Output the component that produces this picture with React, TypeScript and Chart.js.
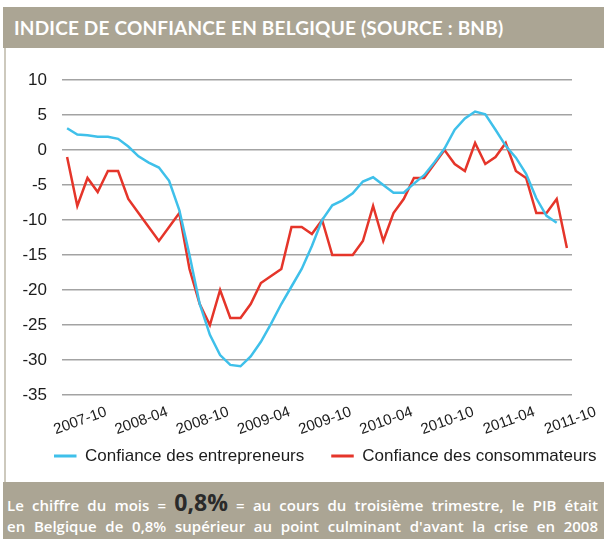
import React, { useEffect, useRef } from 'react';
import { Chart, registerables } from 'chart.js';

Chart.register(...registerables);

const categories: string[] = [
  '2007-09', '2007-10', '2007-11', '2007-12',
  '2008-01', '2008-02', '2008-03', '2008-04', '2008-05', '2008-06', '2008-07', '2008-08', '2008-09', '2008-10', '2008-11', '2008-12',
  '2009-01', '2009-02', '2009-03', '2009-04', '2009-05', '2009-06', '2009-07', '2009-08', '2009-09', '2009-10', '2009-11', '2009-12',
  '2010-01', '2010-02', '2010-03', '2010-04', '2010-05', '2010-06', '2010-07', '2010-08', '2010-09', '2010-10', '2010-11', '2010-12',
  '2011-01', '2011-02', '2011-03', '2011-04', '2011-05', '2011-06', '2011-07', '2011-08', '2011-09', '2011-10',
];

const tickLabels: string[] = ['2007-10', '2008-04', '2008-10', '2009-04', '2009-10', '2010-04', '2010-10', '2011-04', '2011-10'];

const entrepreneurs: (number | null)[] = [
  3.1, 2.2, 2.1, 1.9, 1.9, 1.6, 0.5, -0.9, -1.8, -2.5,
  -4.4, -8.6, -15, -22, -26.4, -29.3, -30.7, -30.9, -29.5, -27.4,
  -24.8, -22.0, -19.5, -17.0, -13.7, -10.0, -7.9, -7.2, -6.2, -4.5,
  -3.9, -5.0, -6.1, -6.1, -4.8, -3.6, -1.8, 0.2, 2.9, 4.5,
  5.5, 5.1, 2.9, 0.6, -1.1, -3.4, -6.9, -9.4, -10.4, null,
];

const consommateurs: number[] = [
  -1, -8, -4, -6, -3, -3, -7, -9, -11, -13,
  -11, -9, -17, -22, -25, -20, -24, -24, -22, -19,
  -18, -17, -11, -11, -12, -10, -15, -15, -15, -13,
  -8, -13, -9, -7, -4, -4, -2, 0, -2, -3,
  1, -2, -1, 1, -3, -4, -9, -9, -7, -14,
];

const seriesNames = ['Confiance des entrepreneurs', 'Confiance des consommateurs'];
const yTickValues: number[] = [10, 5, 0, -5, -10, -15, -20, -25, -30, -35];
const yMin = -35;
const yMax = 10;
const yStep = 5;

const FONT = "'Liberation Sans', Arial, sans-serif";
const BLUE = '#3fc0ea';
const RED = '#e5352a';
const TAN = '#aba594';
const TEXT = '#1c1c1c';

const CW = 640;
const CH = 432;

export default function App() {
  const ref = useRef<HTMLCanvasElement>(null);

  useEffect(() => {
    const canvas = ref.current;
    if (!canvas) return;
    const ctx = canvas.getContext('2d')!;
    ctx.font = `17px ${FONT}`;
    const widest = Math.max(...yTickValues.map((v) => ctx.measureText(String(v)).width));

    const chart = new Chart(canvas, {
      type: 'line',
      data: {
        labels: categories,
        datasets: [
          {
            label: seriesNames[0],
            data: entrepreneurs,
            borderColor: BLUE,
            backgroundColor: BLUE,
            borderWidth: 2.5,
            pointRadius: 0,
            tension: 0,
            fill: false,
          },
          {
            label: seriesNames[1],
            data: consommateurs,
            borderColor: RED,
            backgroundColor: RED,
            borderWidth: 2.5,
            pointRadius: 0,
            tension: 0,
            fill: false,
          },
        ],
      },
      options: {
        responsive: false,
        animation: false,
        events: [],
        layout: { padding: { left: 27, right: 5, top: 31, bottom: 6.5 } },
        plugins: {
          tooltip: { enabled: false },
          title: { display: false },
          legend: {
            display: true,
            position: 'bottom',
            align: 'start',
            labels: {
              boxWidth: 22.5,
              boxHeight: 3,
              padding: 27,
              color: TEXT,
              font: { family: FONT, size: 17 },
              generateLabels: (c: any) =>
                (Chart.defaults.plugins.legend.labels.generateLabels as any)(c).map((l: any) => ({
                  ...l,
                  lineWidth: 0,
                  fillStyle: l.strokeStyle,
                })),
            },
          },
        },
        scales: {
          x: {
            type: 'category',
            offset: true,
            grid: { display: false, drawTicks: false },
            border: { display: false },
            ticks: {
              autoSkip: false,
              minRotation: 20,
              maxRotation: 20,
              mirror: true,
              padding: -25,
              labelOffset: 35,
              color: TEXT,
              font: { family: FONT, size: 15 },
              callback: (_v: any, i: number) => (tickLabels.includes(categories[i]) ? categories[i] : ''),
            },
            afterFit: (s: any) => {
              s.height = 25.5;
            },
          },
          y: {
            min: yMin,
            max: yMax,
            position: 'left',
            grid: { color: '#a3a3a3', lineWidth: 1.5, drawTicks: false },
            border: { display: false },
            ticks: {
              stepSize: yStep,
              mirror: true,
              crossAlign: 'far',
              padding: -15 - widest,
              color: TEXT,
              font: { family: FONT, size: 17 },
            },
            afterFit: (s: any) => {
              s.width = 35;
            },
          },
          y2: {
            position: 'right',
            display: true,
            grid: { display: false, drawTicks: false },
            border: { display: false },
            ticks: { display: false },
            afterFit: (s: any) => {
              s.width = 63;
            },
          },
        },
      } as any,
    });
    return () => chart.destroy();
  }, []);

  return (
    <div
      style={{
        position: 'absolute',
        left: 0,
        top: 0,
        width: 604,
        height: 545,
        overflow: 'hidden',
        background: '#fff',
      }}
    >
      <div
        style={{
          position: 'absolute',
          left: 3,
          top: 7,
          width: 601,
          height: 41,
          background: TAN,
        }}
      >
        <div
          style={{
            position: 'absolute',
            left: 11,
            top: 9,
            color: '#fff',
            fontFamily: 'Lato, sans-serif',
            fontWeight: 700,
            fontSize: 19,
            letterSpacing: '0.2px',
            lineHeight: '23px',
            whiteSpace: 'nowrap',
          }}
        >
          INDICE DE CONFIANCE EN BELGIQUE (SOURCE : BNB)
        </div>
      </div>
      <div
        style={{
          position: 'absolute',
          left: 4,
          top: 48,
          width: 1.5,
          height: 434,
          background: '#cdc9bd',
        }}
      />
      <div style={{ position: 'absolute', left: 0, top: 49, width: CW, height: CH }}>
        <canvas ref={ref} width={CW} height={CH} style={{ width: CW, height: CH, display: 'block' }} />
      </div>
      <div
        style={{
          position: 'absolute',
          left: 3,
          top: 482,
          width: 601,
          height: 57,
          background: TAN,
          color: '#fff',
          fontFamily: "'Open Sans', sans-serif",
          fontWeight: 600,
          fontSize: 15,
        }}
      >
        <div
          style={{
            position: 'absolute',
            left: 4,
            top: 7,
            width: 591,
            lineHeight: '26px',
            textAlign: 'justify',
            textAlignLast: 'justify' as any,
            whiteSpace: 'nowrap',
          }}
        >
          Le chiffre du mois ={' '}
          <span style={{ fontSize: 23, color: '#2a2a2a', fontWeight: 700 }}>0,8%</span> = au cours du troisième
          trimestre, le PIB était
        </div>
        <div
          style={{
            position: 'absolute',
            left: 4,
            top: 35,
            width: 591,
            lineHeight: '19px',
            textAlign: 'justify',
            textAlignLast: 'justify' as any,
            whiteSpace: 'nowrap',
          }}
        >
          en Belgique de 0,8% supérieur au point culminant d'avant la crise en 2008
        </div>
      </div>
    </div>
  );
}
